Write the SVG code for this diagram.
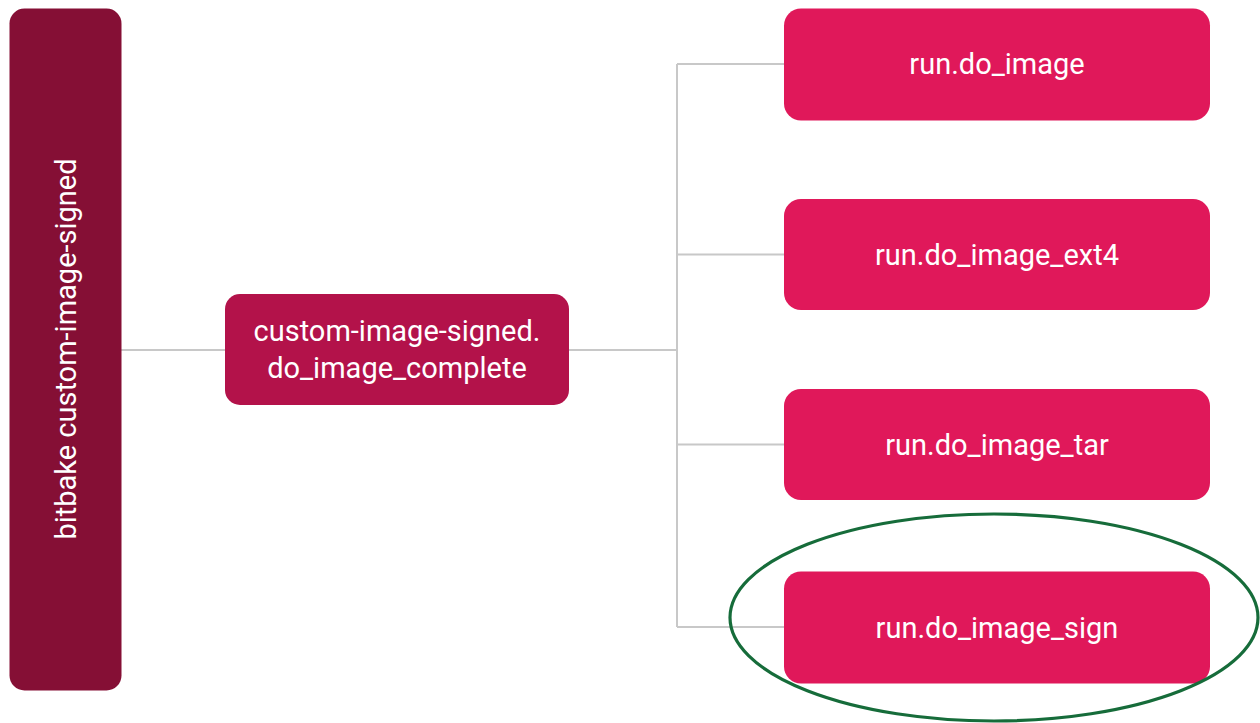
<svg xmlns="http://www.w3.org/2000/svg" width="1260" height="723" viewBox="0 0 1260 723">
  <style>
    .lbl { font-family: Roboto, "Liberation Sans", sans-serif; font-size: 29px; fill: #ffffff; text-anchor: middle; dominant-baseline: central; }
    .edge { stroke: #c8c8c8; stroke-width: 2; fill: none; }
    .task { fill: #e0185a; }
  </style>
  <rect width="1260" height="723" fill="#ffffff"/>

  <!-- connectors -->
  <g id="connectors">
    <path class="edge" d="M121 350 H225"/>
    <path class="edge" d="M569 350 H677"/>
    <path class="edge" d="M677 64 V627"/>
    <path class="edge" d="M677 64 H784"/>
    <path class="edge" d="M677 254.5 H784"/>
    <path class="edge" d="M677 444.5 H784"/>
    <path class="edge" d="M677 627 H784"/>
  </g>

  <g id="node-bitbake">
    <rect x="9.5" y="8.5" width="112" height="682" rx="15" fill="#850f35"/>
    <text class="lbl" transform="translate(66 349) rotate(-90)">bitbake custom-image-signed</text>
  </g>

  <g id="node-complete">
    <rect x="225" y="294" width="344" height="111" rx="15" fill="#b3124a"/>
    <text class="lbl" x="397" y="331">custom-image-signed.</text>
    <text class="lbl" x="397" y="368">do_image_complete</text>
  </g>

  <g id="node-do-image">
    <rect class="task" x="784" y="8.5" width="426" height="112" rx="17"/>
    <text class="lbl" x="997" y="64">run.do_image</text>
  </g>

  <g id="node-do-image-ext4">
    <rect class="task" x="784" y="199" width="426" height="111" rx="17"/>
    <text class="lbl" x="997" y="254.5">run.do_image_ext4</text>
  </g>

  <g id="node-do-image-tar">
    <rect class="task" x="784" y="389" width="426" height="111" rx="17"/>
    <text class="lbl" x="997" y="444.5">run.do_image_tar</text>
  </g>

  <g id="node-do-image-sign">
    <rect class="task" x="784" y="571.5" width="426" height="112" rx="17"/>
    <text class="lbl" x="997" y="628">run.do_image_sign</text>
  </g>

  <!-- highlight ring -->
  <ellipse cx="994" cy="617.5" rx="264" ry="103.5" fill="none" stroke="#166c3a" stroke-width="3.2"/>
</svg>
